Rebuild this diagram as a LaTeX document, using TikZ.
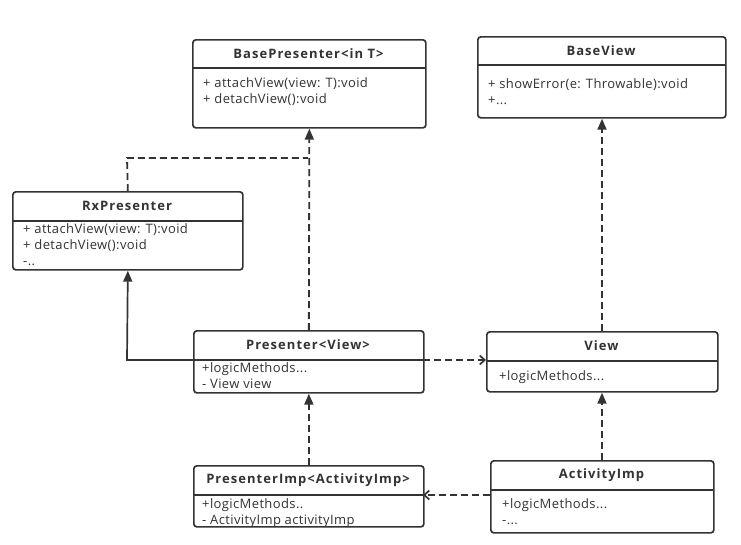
\documentclass[tikz,border=0pt]{standalone}
\usepackage{fontspec}
\setmainfont{Open Sans}
\usetikzlibrary{arrows.meta}
\definecolor{ink}{HTML}{333333}
\tikzset{
  classbox/.style={draw=ink, line width=1.7pt, rounded corners=3pt, fill=white, anchor=north west, inner sep=0pt},
  ctitle/.style={font=\fontsize{13}{15}\selectfont\bfseries\addfontfeatures{LetterSpace=8}, text=ink, inner sep=0pt},
  cbody/.style={font=\fontsize{13}{16}\selectfont\addfontfeatures{LetterSpace=3}, text=ink, anchor=base west, inner sep=0pt},
  sep/.style={draw=ink, line width=1.7pt},
  dashline/.style={draw=ink, line width=1.8pt, dash pattern=on 7pt off 4pt},
  solidline/.style={draw=ink, line width=1.7pt},
  realize/.style={-{Triangle[width=9pt,length=11pt]}},
  depend/.style={-{Straight Barb[width=9pt,length=5pt,line width=1.7pt]}},
}
\begin{document}
\begin{tikzpicture}[x=1pt,y=-1pt]
\useasboundingbox[fill=white] (0,0) rectangle (741,544);

% BasePresenter
\node[classbox, minimum width=233pt, minimum height=88pt] (bp) at (192,39) {};
\draw[sep] (192,68) -- (425,68);
\node[ctitle] (bpt) at (308.5,53.5) {BasePresenter<in T>};
\node[cbody] (bpb1) at (203,87) {+ attachView(view: T):void};
\node[cbody] (bpb2) at (203,103) {+ detachView():void};

% BaseView
\node[classbox, minimum width=248pt, minimum height=81pt] (bv) at (477,36) {};
\draw[sep] (477,65) -- (725,65);
\node[ctitle] (bvt) at (601,50.5) {BaseView};
\node[cbody] (bvb1) at (488,88) {+ showError(e: Throwable):void};
\node[cbody] (bvb2) at (488,104) {+...};

% RxPresenter
\node[classbox, minimum width=230pt, minimum height=78pt] (rx) at (12,191) {};
\draw[sep] (12,221) -- (242,221);
\node[ctitle] (rxt) at (127,206) {RxPresenter};
\node[cbody] (rxb1) at (23,233) {+ attachView(view: T):void};
\node[cbody] (rxb2) at (23,249) {+ detachView():void};
\node[cbody] (rxb3) at (23,265) {-..};

% Presenter<View>
\node[classbox, minimum width=230pt, minimum height=62pt] (pr) at (193,330) {};
\draw[sep] (193,360) -- (423,360);
\node[ctitle] (prt) at (308,345) {Presenter<View>};
\node[cbody] (prb1) at (202,372) {+logicMethods...};
\node[cbody] (prb2) at (202,388) {- View view};

% View
\node[classbox, minimum width=231pt, minimum height=60pt] (vw) at (486,331) {};
\draw[sep] (486,361) -- (717,361);
\node[ctitle] (vwt) at (601.5,345.5) {View};
\node[cbody] (vwb1) at (499,380) {+logicMethods...};

% PresenterImp
\node[classbox, minimum width=230pt, minimum height=61pt] (pi) at (193,465) {};
\draw[sep] (193,495) -- (423,495);
\node[ctitle] (pit) at (308,480) {PresenterImp<ActivityImp>};
\node[cbody] (pib1) at (202,508) {+logicMethods..};
\node[cbody] (pib2) at (202,524) {- ActivityImp activityImp};

% ActivityImp
\node[classbox, minimum width=223pt, minimum height=72pt] (ai) at (490,460) {};
\draw[sep] (490,490) -- (713,490);
\node[ctitle] (ait) at (601.5,475) {ActivityImp};
\node[cbody] (aib1) at (502,508) {+logicMethods...};
\node[cbody] (aib2) at (502,524) {-...};

% connectors
\coordinate (j1) at (308,158);
\coordinate (j2) at (127,158);
\coordinate (j3) at (127,360);
\coordinate (cx) at (602,0);
\draw[dashline, realize] (pr.north) -- (bp.south);
\draw[dashline] (rx.north) -- (j2) -- (j1);
\draw[solidline, realize] (193,360) -- (j3) -- (rx.south);
\draw[dashline, depend] (423,360) -- (486,360);
\draw[dashline, realize] (pi.north) -- (pr.south);
\draw[dashline, depend] (490,495) -- (423,495);
\draw[dashline, realize] (ai.north -| cx) -- (vw.south -| cx);
\draw[dashline, realize] (vw.north -| cx) -- (bv.south -| cx);
\end{tikzpicture}
\end{document}
